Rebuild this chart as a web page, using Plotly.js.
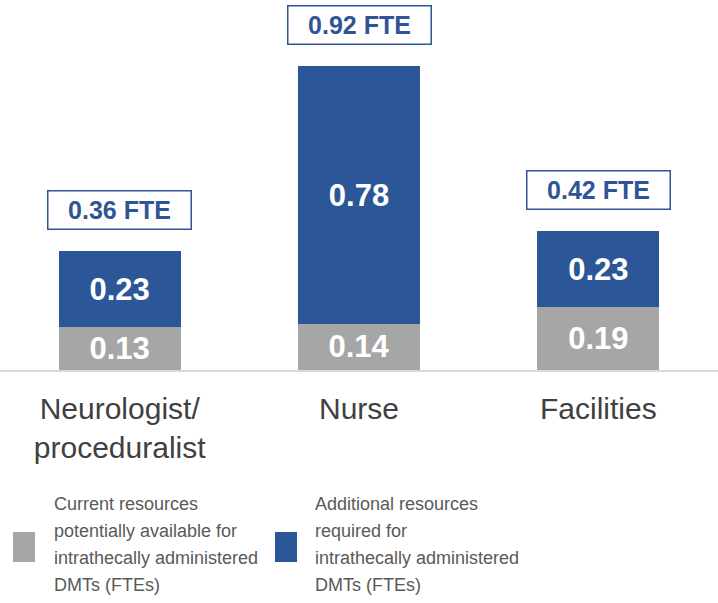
<!DOCTYPE html>
<html>
<head>
<meta charset="utf-8">
<script src="https://cdn.plot.ly/plotly-3.0.1.min.js"></script>
<style>
  html, body { margin: 0; padding: 0; background: #fff; }
  #chart { width: 718px; height: 603px; }
</style>
</head>
<body>
<div id="chart"></div>
<script>
// Data
var categories = ["Neurologist/<br>proceduralist", "Nurse", "Facilities"];
var current_fte = [0.13, 0.14, 0.19];
var additional_fte = [0.23, 0.78, 0.23];
var legend_lines = [
  ["Current resources", "potentially available for", "intrathecally administered", "DMTs (FTEs)"],
  ["Additional resources", "required for", "intrathecally administered", "DMTs (FTEs)"]
];

var grey = "#a6a6a6";
var blue = "#2b5799";
var boxText = "#2f5597";

// plot area: baseline at y=370px, 330px per 1.0 FTE
var plotTop = 40, plotH = 330;
function py(pix) { return (plotTop + plotH - pix) / plotH; }   // pixel -> paper y
function px(pix) { return pix / 718; }                          // pixel -> paper x

var barText = {family: "Liberation Sans, Arial, sans-serif", size: 31, color: "#ffffff", weight: "bold"};

var traces = [
  {
    type: "bar", x: categories, y: current_fte, name: legend_lines[0].join(" "),
    marker: {color: grey},
    text: current_fte.map(function (v) { return v.toFixed(2); }),
    textposition: "inside", insidetextanchor: "middle", constraintext: "none",
    textfont: barText, hoverinfo: "skip", showlegend: false
  },
  {
    type: "bar", x: categories, y: additional_fte, name: legend_lines[1].join(" "),
    marker: {color: blue},
    text: additional_fte.map(function (v) { return v.toFixed(2); }),
    textposition: "inside", insidetextanchor: "middle", constraintext: "none",
    textfont: barText, hoverinfo: "skip", showlegend: false
  }
];

// total boxes above each bar
var annotations = categories.map(function (c, i) {
  var total = current_fte[i] + additional_fte[i];
  return {
    x: c, y: total, xref: "x", yref: "y",
    yanchor: "bottom", yshift: 21, showarrow: false,
    text: "<b>" + total.toFixed(2) + " FTE</b>",
    font: {family: "Liberation Sans, Arial, sans-serif", size: 25, color: boxText},
    bordercolor: boxText, borderwidth: 1.5, borderpad: 2,
    width: 138, height: 33, bgcolor: "#ffffff"
  };
});

// legend drawn by hand (big swatches, left-aligned text, 27px line pitch)
var legendFont = {family: "Liberation Sans, Arial, sans-serif", size: 18, color: "#595959"};
var legendX = [52, 313];
var swatchX = [13, 275];
var swatchColors = [grey, blue];
var lineY = [504, 531, 558, 585];
var shapes = [];
for (var k = 0; k < 2; k++) {
  for (var j = 0; j < legend_lines[k].length; j++) {
    annotations.push({
      x: px(legendX[k]), y: py(lineY[j]), xref: "paper", yref: "paper",
      xanchor: "left", yanchor: "middle", align: "left", showarrow: false,
      text: legend_lines[k][j], font: legendFont
    });
  }
  shapes.push({
    type: "rect", xref: "paper", yref: "paper",
    x0: px(swatchX[k]), x1: px(swatchX[k] + 22), y0: py(562), y1: py(532),
    fillcolor: swatchColors[k], line: {width: 0}
  });
}

var layout = {
  width: 718, height: 603,
  margin: {l: 0, r: 0, t: plotTop, b: 603 - plotTop - plotH},
  paper_bgcolor: "#ffffff", plot_bgcolor: "#ffffff",
  barmode: "stack", bargap: 0.49,
  showlegend: false,
  uniformtext: {mode: "show", minsize: 31},
  xaxis: {
    showline: true, linecolor: "#d9d9d9", linewidth: 2,
    ticks: "outside", ticklen: 11, tickcolor: "rgba(0,0,0,0)",
    tickfont: {family: "Liberation Sans, Arial, sans-serif", size: 30, color: "#404040"},
    showgrid: false, zeroline: false, fixedrange: true
  },
  yaxis: {
    range: [0, 1], visible: false, showgrid: false, zeroline: false, fixedrange: true
  },
  annotations: annotations,
  shapes: shapes
};

Plotly.newPlot("chart", traces, layout, {displayModeBar: false, staticPlot: true});
</script>
</body>
</html>
